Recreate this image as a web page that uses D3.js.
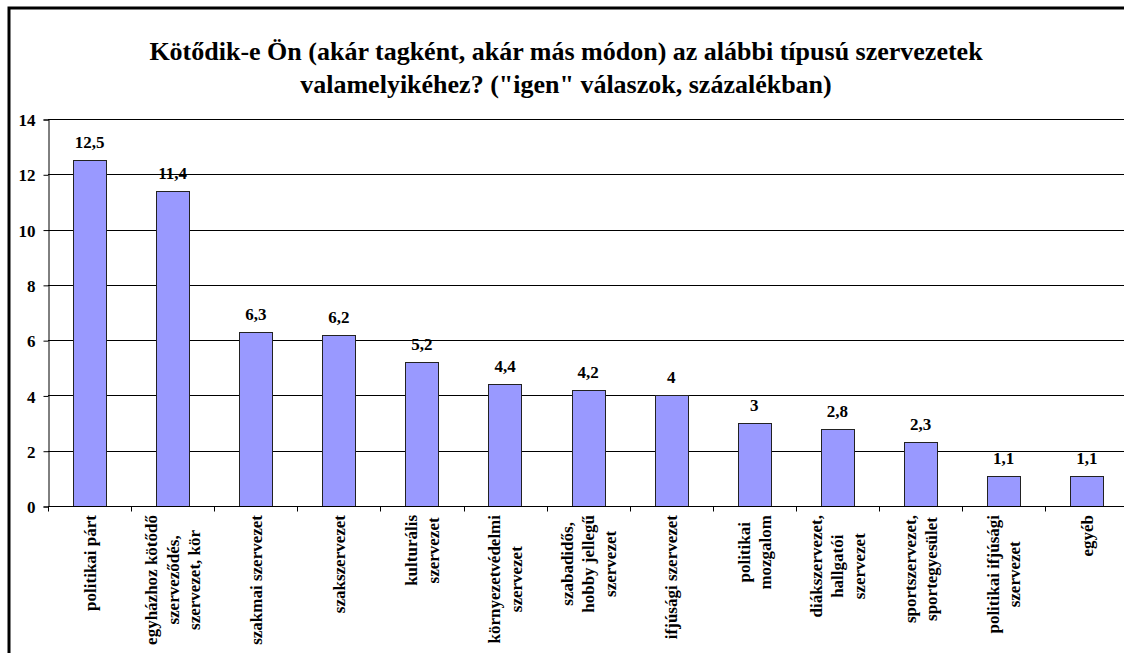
<!DOCTYPE html>
<html>
<head>
<meta charset="utf-8">
<script src="https://cdn.jsdelivr.net/npm/d3@7"></script>
<style>
    html, body{ margin:0; padding:0; background:#fff; overflow:hidden; }
    svg{ display:block; overflow:hidden; }
    svg text{ font-family:'Liberation Serif', 'Times New Roman', serif; font-weight:bold; }
</style>
</head>
<body>
<div id="chart"></div>
<script>
var title_lines = ['Kötődik-e Ön (akár tagként, akár más módon) az alábbi típusú szervezetek',
    'valamelyikéhez? ("igen" válaszok, százalékban)'];

var categories = [
    ['politikai párt'],
    ['egyházhoz kötődő', 'szerveződés,', 'szervezet, kör'],
    ['szakmai szervezet'],
    ['szakszervezet'],
    ['kulturális', 'szervezet'],
    ['környezetvédelmi', 'szervezet'],
    ['szabadidős,', 'hobby jellegű', 'szervezet'],
    ['ifjúsági szervezet'],
    ['politikai', 'mozgalom'],
    ['diákszervezet,', 'hallgatói', 'szervezet'],
    ['sportszervezet,', 'sportegyesület'],
    ['politikai ifjúsági', 'szervezet'],
    ['egyéb']
];
var values = [12.5, 11.4, 6.3, 6.2, 5.2, 4.4, 4.2, 4, 3, 2.8, 2.3, 1.1, 1.1];
var y_ticks = [0, 2, 4, 6, 8, 10, 12, 14];

var W = 1124, H = 653;
var left = 48, top_y = 119, bottom_y = 506, step = 83.1;

var data = values.map(function(v, i){
    return {key: i, lines: categories[i], value: v};
});

var svg = d3.select('#chart').append('svg')
    .attr('width', W)
    .attr('height', H)
    .attr('font-family', "'Liberation Serif', serif")
    .attr('font-weight', 'bold');

var x = d3.scaleBand()
    .domain(d3.range(values.length))
    .range([left, left + step * values.length])
    .paddingInner(0.6)
    .paddingOuter(0.3);
var y = d3.scaleLinear().domain([0, 14]).range([bottom_y, top_y]);

// frame: only the top and left edges are inside the picture
svg.append('path')
    .attr('d', 'M9,' + (H + 5) + 'V8H' + (W + 5))
    .attr('fill', 'none')
    .attr('stroke', '#000')
    .attr('stroke-width', 3);

// title
svg.append('g').selectAll('text').data(title_lines).enter()
    .append('text')
    .attr('x', 566)
    .attr('y', function(d, i){ return 60 + i * 33 })
    .attr('text-anchor', 'middle')
    .attr('font-size', 26)
    .text(function(d){ return d });

// grid
svg.append('g').selectAll('line').data(y_ticks.slice(1)).enter()
    .append('line')
    .attr('x1', left).attr('x2', W)
    .attr('y1', function(d){ return Math.round(y(d)) + 0.5 })
    .attr('y2', function(d){ return Math.round(y(d)) + 0.5 })
    .attr('stroke', '#000');

// y axis
var yAxis = d3.axisLeft(y).tickValues(y_ticks).tickSize(5).tickPadding(8)
    .tickFormat(function(d){ return d });
var gy = svg.append('g')
    .attr('transform', 'translate(' + (left + 0.5) + ',0.5)')
    .call(yAxis)
    .attr('font-family', null)
    .attr('font-size', null);
gy.select('.domain').attr('stroke', '#000');
gy.selectAll('line').attr('stroke', '#000');
gy.selectAll('text')
    .attr('dy', '0.36em')
    .attr('fill', '#000')
    .attr('font-size', 17);

// bars
svg.append('g').selectAll('rect').data(data).enter()
    .append('rect')
    .attr('x', function(d){ return Math.round(x(d.key)) + 0.5 })
    .attr('y', function(d){ return Math.round(y(d.value)) + 0.5 })
    .attr('width', Math.round(x.bandwidth()))
    .attr('height', function(d){ return Math.round(y(0)) - Math.round(y(d.value)) })
    .attr('fill', '#9999ff')
    .attr('stroke', '#222')
    .attr('stroke-width', 1);

// value labels
svg.append('g').selectAll('text').data(data).enter()
    .append('text')
    .attr('x', function(d){ return x(d.key) + x.bandwidth() / 2 })
    .attr('y', function(d){ return y(d.value) - 12 })
    .attr('text-anchor', 'middle')
    .attr('font-size', 17)
    .text(function(d){ return String(d.value).replace('.', ',') });

// x axis line and ticks at band edges
svg.append('line')
    .attr('x1', left).attr('x2', W)
    .attr('y1', Math.round(y(0)) + 0.5).attr('y2', Math.round(y(0)) + 0.5)
    .attr('stroke', '#000');
svg.append('g').selectAll('line').data(d3.range(values.length + 1)).enter()
    .append('line')
    .attr('x1', function(i){ return Math.round(left + i * x.step()) + 0.5 })
    .attr('x2', function(i){ return Math.round(left + i * x.step()) + 0.5 })
    .attr('y1', Math.round(y(0)) + 0.5)
    .attr('y2', Math.round(y(0)) + 5.5)
    .attr('stroke', '#000');

// category labels, rotated, lines centred on each other
var lineH = 21.6;
var lab = svg.append('g').selectAll('g').data(data).enter()
    .append('g')
    .attr('transform', function(d){
        var cx = x(d.key) + x.bandwidth() / 2;
        var off = (d.lines.length - 1) * lineH / 2;
        return 'translate(' + (cx - off + 6) + ',' + (y(0) + 9) + ') rotate(-90)';
    });
lab.each(function(d){
    var t = d3.select(this).selectAll('text').data(d.lines).enter()
        .append('text')
        .attr('y', function(l, i){ return i * lineH })
        .attr('text-anchor', 'middle')
        .attr('font-size', 17)
        .text(function(l){ return l });
    var maxW = 0;
    t.each(function(){ maxW = Math.max(maxW, this.getComputedTextLength()) });
    t.attr('x', -maxW / 2);
});
</script>
</body>
</html>
